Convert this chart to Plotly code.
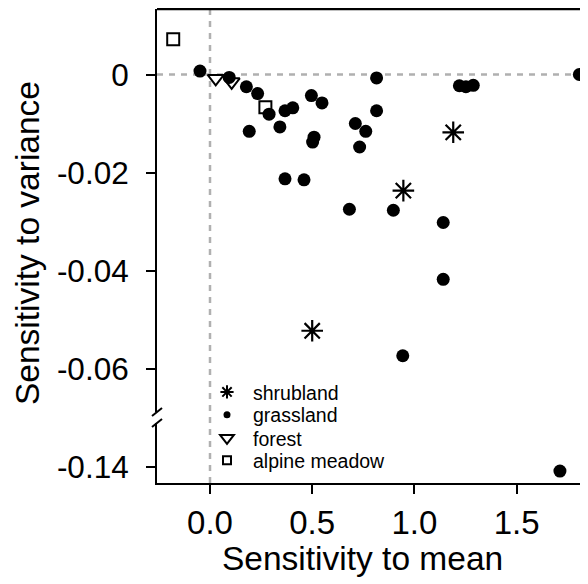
import plotly.graph_objects as go

# ---------------- data ----------------
shrub_x = [0.946, 1.190, 0.500]
shrub_y = [-0.0237, -0.0118, -0.0523]

grass_x = [-0.049, 0.094, 0.178, 0.233, 0.289, 0.192, 0.342, 0.367, 0.405, 0.496,
           0.548, 0.509, 0.502, 0.367, 0.460, 0.711, 0.762, 0.732, 0.815, 0.815,
           1.220, 1.252, 1.288, 1.807, 0.682, 0.897, 1.141, 1.141, 0.943, 1.712]
grass_y = [0.0007, -0.0006, -0.0025, -0.0039, -0.0081, -0.0116, -0.0107, -0.0074, -0.0068, -0.0043,
           -0.0058, -0.0128, -0.0138, -0.0213, -0.0215, -0.0100, -0.0116, -0.0148, -0.0074, -0.0007,
           -0.0023, -0.0025, -0.0022, 0.0000, -0.0275, -0.0277, -0.0302, -0.0418, -0.0574, -0.1409]

forest_x = [0.028, 0.106]
forest_y = [-0.0008, -0.0015]

alpine_x = [-0.180, 0.271]
alpine_y = [0.0072, -0.0067]

x_ticks = [0.0, 0.5, 1.0, 1.5]
x_tick_labels = ["0.0", "0.5", "1.0", "1.5"]
y_ticks_top = [0, -0.02, -0.04, -0.06]
y_tick_labels_top = ["0", "-0.02", "-0.04", "-0.06"]
y_ticks_bottom = [-0.14]
y_tick_labels_bottom = ["-0.14"]

BREAK = -0.1  # values below this go on the lower axis segment

# ---------------- layout helpers (page pixel -> paper) ----------------
OFF = 8                      # page body margin
W, H = 580, 576
L, R, T, B = 149, 0, 1, 101
PW, PH = W - L - R, H - T - B


def px(xpage):
    return (xpage - OFF - L) / PW


def py(ypage):
    return (H - B - (ypage - OFF)) / PH


FONT = "Liberation Sans, Arial, sans-serif"

fig = go.Figure()


def split(xs, ys):
    top = [(a, b) for a, b in zip(xs, ys) if b >= BREAK]
    bot = [(a, b) for a, b in zip(xs, ys) if b < BREAK]
    return top, bot


series = [
    ("shrubland", shrub_x, shrub_y,
     dict(symbol="asterisk-open", size=18, color="black", line=dict(color="black", width=2.2)),
     dict(symbol="asterisk-open", size=11, color="black", line=dict(color="black", width=2))),
    ("grassland", grass_x, grass_y,
     dict(symbol="circle", size=13, color="black", line=dict(width=0)),
     dict(symbol="circle", size=7, color="black", line=dict(width=0))),
    ("forest", forest_x, forest_y,
     dict(symbol="triangle-down-open", size=14, color="black", line=dict(color="black", width=2)),
     dict(symbol="triangle-down-open", size=12, color="black", line=dict(color="black", width=2))),
    ("alpine meadow", alpine_x, alpine_y,
     dict(symbol="square-open", size=12, color="black", line=dict(color="black", width=2)),
     dict(symbol="square-open", size=8, color="black", line=dict(color="black", width=2))),
]

legend_names = ["legend", "legend2", "legend3", "legend4"]
legend_rows = [392.3, 415.0, 438.3, 460.5]

for (name, xs, ys, mk, lmk), lg in zip(series, legend_names):
    top, bot = split(xs, ys)
    if top:
        fig.add_trace(go.Scatter(x=[p[0] for p in top], y=[p[1] for p in top], mode="markers",
                                 marker=mk, xaxis="x", yaxis="y", showlegend=False, name=name))
    if bot:
        fig.add_trace(go.Scatter(x=[p[0] for p in bot], y=[p[1] for p in bot], mode="markers",
                                 marker=mk, xaxis="x", yaxis="y2", showlegend=False, name=name))
    fig.add_trace(go.Scatter(x=[None], y=[None], mode="markers", marker=lmk, name=name,
                             xaxis="x", yaxis="y", showlegend=True, legend=lg))

# scale: 204.4 px per x unit (0 at page px 210); 4900 px per y unit (0 at page py 74.5; -0.14 at 466.7)
XS, X0 = 204.4, 210.0
YS, Y0, Y14 = 4900.0, 74.5, 466.7
plot_left, plot_right = OFF + L, OFF + W - R
plot_top, plot_bot = OFF + T, OFF + H - B
x_lo = (plot_left - X0) / XS
x_hi = (plot_right - X0) / XS
gap_top_px, gap_bot_px = 411.7, 423.0
y_top_hi = (Y0 - plot_top) / YS
y_top_lo = -(gap_top_px - Y0) / YS
y_bot_hi = -0.14 + (Y14 - gap_bot_px) / YS
y_bot_lo = -0.14 - (plot_bot - Y14) / YS

axis_common = dict(showgrid=False, zeroline=False, showline=True, linecolor="black", linewidth=2,
                   ticks="outside", ticklen=9, tickwidth=2, tickcolor="black")

legend_common = dict(xanchor="left", yanchor="middle", font=dict(size=19.5, family=FONT),
                     bgcolor="rgba(0,0,0,0)", itemwidth=42, borderwidth=0)

fig.update_layout(
    width=W, height=H,
    margin=dict(l=L, r=R, t=T, b=B, pad=0),
    paper_bgcolor="white", plot_bgcolor="white",
    font=dict(family=FONT, color="black"),
    xaxis=dict(range=[x_lo, x_hi], anchor="y2", tickvals=x_ticks, ticktext=x_tick_labels,
               tickfont=dict(size=33, family=FONT), ticklabelstandoff=0, **axis_common),
    yaxis=dict(range=[y_top_lo, y_top_hi], domain=[py(gap_top_px), 1], anchor="x",
               tickvals=y_ticks_top, ticktext=y_tick_labels_top,
               tickfont=dict(size=31.5, family=FONT), ticklabelstandoff=11, **axis_common),
    yaxis2=dict(range=[y_bot_lo, y_bot_hi], domain=[0, py(gap_bot_px)], anchor="x",
                tickvals=y_ticks_bottom, ticktext=y_tick_labels_bottom,
                tickfont=dict(size=31.5, family=FONT), ticklabelstandoff=11, **axis_common),
    showlegend=True,
)
for lg, row in zip(legend_names, legend_rows):
    fig.update_layout({lg: dict(x=px(201), y=py(row), **legend_common)})

dash = dict(color="#b0b0b0", width=2.5, dash="6px,6px")
shapes = [
    dict(type="line", xref="paper", yref="y", x0=0, x1=1, y0=0, y1=0, line=dash, layer="below"),
    dict(type="line", xref="x", yref="paper", x0=0, x1=0, y0=0, y1=1, line=dash, layer="below"),
    dict(type="line", xref="paper", yref="paper", x0=0, x1=1, y0=1, y1=1,
         line=dict(color="black", width=2.5)),
    dict(type="line", xref="paper", yref="paper", x0=px(152), x1=px(162), y0=py(416), y1=py(408),
         line=dict(color="black", width=2)),
    dict(type="line", xref="paper", yref="paper", x0=px(152), x1=px(162), y0=py(427), y1=py(419),
         line=dict(color="black", width=2)),
]
fig.update_layout(shapes=shapes)

fig.add_annotation(text="Sensitivity to mean", xref="paper", yref="paper",
                   x=px(362), y=py(558), showarrow=False, xanchor="center", yanchor="middle",
                   font=dict(size=33.5, family=FONT))
fig.add_annotation(text="Sensitivity to variance", xref="paper", yref="paper",
                   x=px(28), y=py(243), showarrow=False, xanchor="center", yanchor="middle",
                   textangle=-90, font=dict(size=33.5, family=FONT))

fig.write_html("out.html")
